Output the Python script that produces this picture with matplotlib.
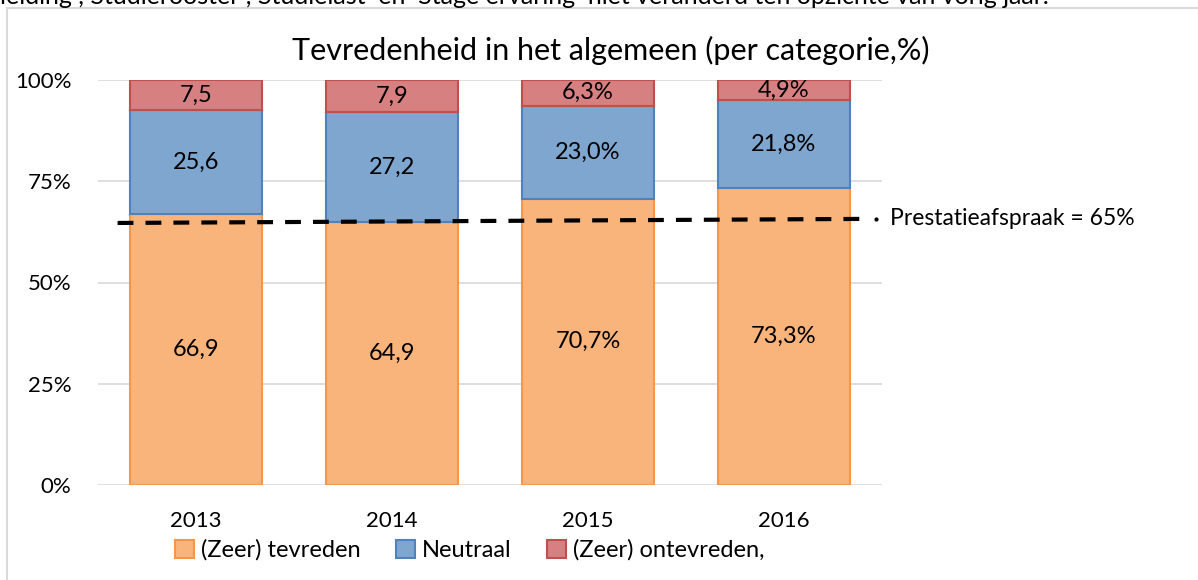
import matplotlib
matplotlib.use("Agg")
import matplotlib.pyplot as plt
from matplotlib.patches import Patch
from matplotlib.lines import Line2D

years = ["2013", "2014", "2015", "2016"]
tevreden = [66.9, 64.9, 70.7, 73.3]
neutraal = [25.6, 27.2, 23.0, 21.8]
ontevreden = [7.5, 7.9, 6.3, 4.9]
lbl_tevreden = ["66,9", "64,9", "70,7%", "73,3%"]
lbl_neutraal = ["25,6", "27,2", "23,0%", "21,8%"]
lbl_ontevreden = ["7,5", "7,9", "6,3%", "4,9%"]
series_names = ["(Zeer) tevreden", "Neutraal", "(Zeer) ontevreden,"]
norm_line_x = [-0.40, 3.39]
norm_line_y = [64.7, 65.7]
yticks = [0, 25, 50, 75, 100]

plt.rcParams["font.family"] = ["Lato", "DejaVu Sans"]

fills = ["#F9B47C", "#7FA6CF", "#D68081"]
edges = ["#F79646", "#4F81BD", "#C0504D"]

fig = plt.figure(figsize=(11.98, 5.80), dpi=100)
ax = fig.add_axes([98 / 1198, 1 - 485 / 580, 784 / 1198, 405 / 580])

x = range(len(years))
bottom = [0] * len(years)
for vals, labels, fc, ec in zip([tevreden, neutraal, ontevreden],
                                [lbl_tevreden, lbl_neutraal, lbl_ontevreden],
                                fills, edges):
    bars = ax.bar(x, vals, bottom=bottom, width=0.673, color=fc,
                  edgecolor=ec, linewidth=1.5, zorder=3)
    ax.bar_label(bars, labels=labels, label_type="center", fontsize=17,
                 color="black")
    bottom = [b + v for b, v in zip(bottom, vals)]

# dashed norm line
ax.plot(norm_line_x, norm_line_y, color="black", linewidth=3,
        dashes=(3.8, 2.9), zorder=4, clip_on=False)
ax.plot([3.47], [65.7], marker="o", markersize=2, color="black",
        clip_on=False, zorder=4)
ax.text(3.54, 65.7, "Prestatieafspraak = 65%", fontsize=16.5,
        va="center", ha="left", clip_on=False)

ax.set_xlim(-0.5, 3.5)
ax.set_ylim(0, 100)
ax.set_xticks(list(x))
ax.set_xticklabels(years, fontsize=16)
ax.set_yticks(yticks)
ax.set_yticklabels([f"{t}%" for t in yticks], fontsize=16)
ax.tick_params(axis="both", length=0)
ax.tick_params(axis="y", pad=19)
ax.tick_params(axis="x", pad=19)
ax.grid(axis="y", color="#D9D9D9", linewidth=1.2, zorder=0)
for s in ax.spines.values():
    s.set_visible(False)

fig.text(611 / 1198, 1 - 50 / 580, "Tevredenheid in het algemeen (per categorie,%)",
         fontsize=22, ha="center", va="center")

handles = [Patch(facecolor=fc, edgecolor=ec, linewidth=1.5) for fc, ec in zip(fills, edges)]
fig.legend(handles, series_names, loc="center", ncol=3, frameon=False,
           bbox_to_anchor=(470 / 1198, 1 - 550 / 580), fontsize=17,
           handlelength=0.8, handleheight=0.8, handletextpad=0.3,
           columnspacing=1.5)

# chart border
fig.add_artist(Line2D([7 / 1198, 1], [1 - 8 / 580, 1 - 8 / 580],
                      color="#D9D9D9", linewidth=1.5))
fig.add_artist(Line2D([7 / 1198, 7 / 1198], [0, 1 - 8 / 580],
                      color="#D9D9D9", linewidth=1.5))

# cut-off sentence from the page above the chart
fig.text(0.0, 1 - 4 / 580,
         "leiding , Studierooster , Studielast  en  Stage ervaring  niet veranderd ten opzichte van vorig jaar.",
         fontsize=18, ha="left", va="baseline")

fig.savefig("out.png", dpi=100)
